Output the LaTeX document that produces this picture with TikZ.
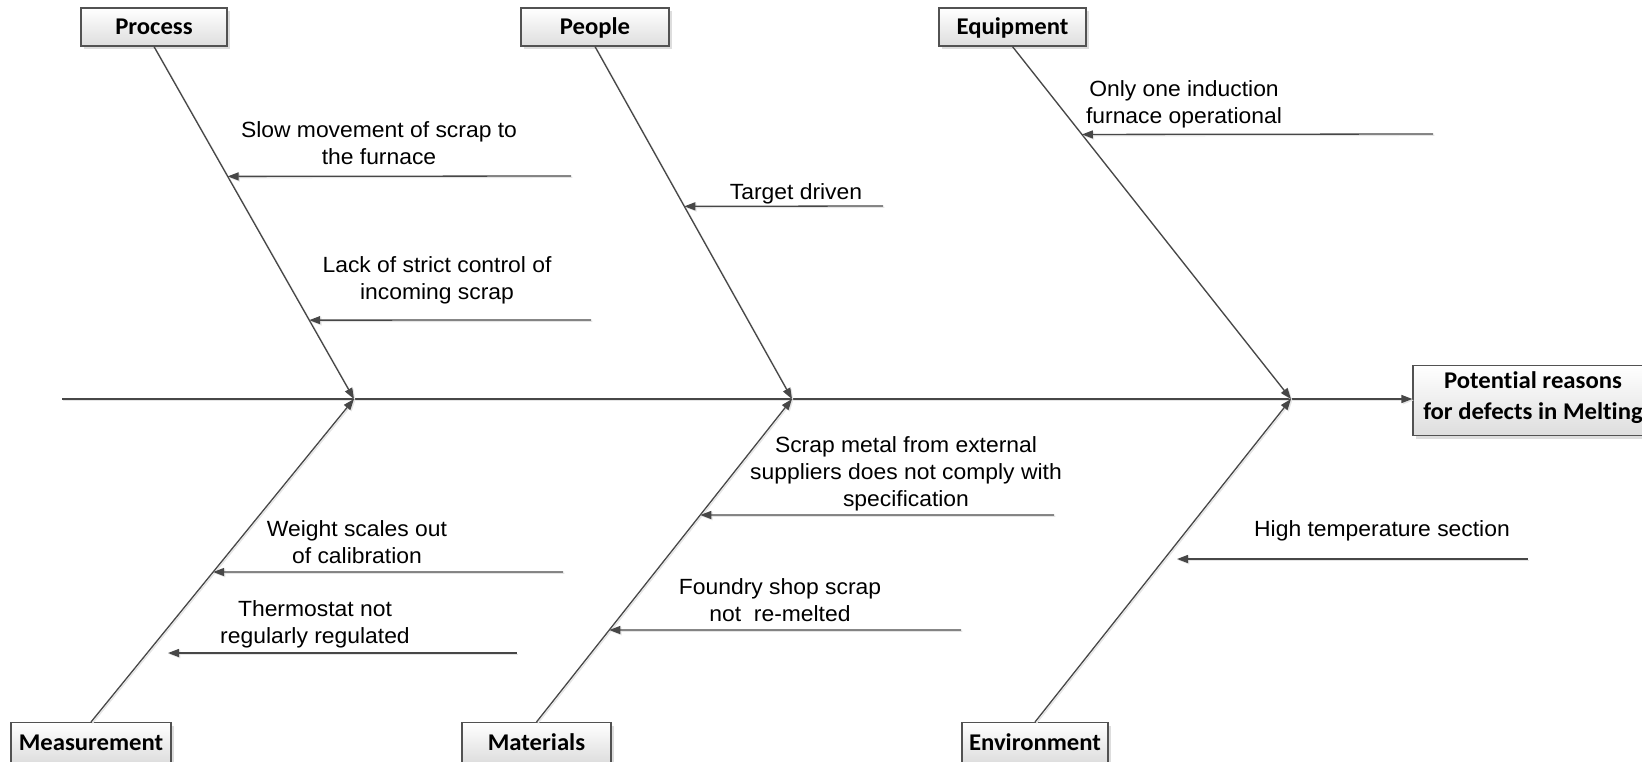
\documentclass[tikz,border=0pt]{standalone}
\usepackage{fontspec}
\setmainfont{Liberation Sans}[FakeStretch=1.04]
\newfontfamily\labfont{Carlito}[FakeStretch=1.03, Ligatures=NoCommon]
\usetikzlibrary{arrows.meta,shadows,calc}

\begin{document}
\begin{tikzpicture}[x=1pt,y=-1pt,
  softline/.style={preaction={draw=black!10, line width=1.3pt,
      transform canvas={shift={(1.3pt,-1.3pt)}}}},
  bone/.style={softline, draw=black!72, line width=1.3pt,
      -{Triangle[length=11pt,width=8pt]}},
  cause/.style={bone},
  labelbox/.style={draw=black!68, line width=1.2pt,
      top color=white, bottom color=black!13,
      drop shadow={shadow xshift=3pt, shadow yshift=-3pt, fill=black!22, opacity=.6},
      minimum height=38pt, inner sep=0pt,
      font=\labfont\bfseries\fontsize{24}{30}\selectfont,
      text height=15.5pt, text depth=0pt},
  resbox/.style={draw=black!68, line width=1.2pt,
      top color=white, bottom color=black!13,
      drop shadow={shadow xshift=3pt, shadow yshift=-3pt, fill=black!22, opacity=.6},
      minimum height=70pt, minimum width=240pt, inner sep=0pt, align=center,
      font=\labfont\bfseries\fontsize{24}{31}\selectfont,
      execute at begin node=\strut},
  causetext/.style={anchor=north, inner sep=0pt, align=center,
      font=\fontsize{22}{27}\selectfont, execute at begin node=\strut}]

\useasboundingbox (0,0) rectangle (1642,761);

% category boxes
\node[labelbox, minimum width=146pt] (proc) at (154,27) {Process};
\node[labelbox, minimum width=148pt] (peop) at (595,27) {People};
\node[labelbox, minimum width=147pt] (equi) at (1012.5,27) {Equipment};
\node[labelbox, minimum width=160pt, minimum height=40pt, anchor=north] (meas) at (91,722) {Measurement};
\node[labelbox, minimum width=149pt, minimum height=40pt, anchor=north] (mate) at (536.5,722) {Materials};
\node[labelbox, minimum width=146pt, minimum height=40pt, anchor=north] (envi) at (1035,722) {Environment};

% effect box
\node[resbox] (res) at (1533,400.5) {Potential reasons\\ for defects in Melting\strut};

% spine
\coordinate (tail) at (62,399);
\coordinate (j1) at (354,399);
\coordinate (j2) at (792,399);
\coordinate (j3) at (1291,399);
\draw[bone] (tail) -- (tail -| res.west);

% main bones
\draw[bone] (proc.south) -- (j1);
\draw[bone] (peop.south) -- (j2);
\draw[bone] (equi.south) -- (j3);
\draw[bone] (meas.north) -- (j1);
\draw[bone] (mate.north) -- (j2);
\draw[bone] (envi.north) -- (j3);

% causes: Process
\coordinate (s1) at (571,176);
\draw[cause] (s1) -- ($(proc.south)!0.3683!(j1)$);
\node[causetext] (t1) at (379,121) {Slow movement of scrap to\\ the furnace};
\coordinate (s2) at (591,320);
\draw[cause] (s2) -- ($(proc.south)!0.7762!(j1)$);
\node[causetext] (t2) at (437,256) {Lack of strict control of\\ incoming scrap};

% causes: People
\coordinate (s3) at (883,206);
\draw[cause] (s3) -- ($(peop.south)!0.4533!(j2)$);
\node[causetext] (t3) at (796,180) {Target driven};

% causes: Equipment
\coordinate (s4) at (1433,134);
\draw[cause] (s4) -- ($(equi.south)!0.2493!(j3)$);
\node[causetext] (t4) at (1184,80) {Only one induction\\ furnace operational};

% causes: Materials
\coordinate (s5) at (1054,515);
\draw[cause] (s5) -- ($(mate.north)!0.6409!(j2)$);
\node[causetext] (t5) at (906,436) {Scrap metal from external\\ suppliers does not comply with\\ specification};
\coordinate (s6) at (961,630);
\draw[cause] (s6) -- ($(mate.north)!0.2848!(j2)$);
\node[causetext] (t6) at (780,578) {Foundry shop scrap\\ not~ re-melted};

% causes: Environment
\coordinate (s7) at (1528,559);
\coordinate (e7) at (1177,559);
\draw[cause] (s7) -- (e7);
\node[causetext] (t7) at (1382,517) {High temperature section};

% causes: Measurement
\coordinate (s8) at (563,572);
\draw[cause] (s8) -- ($(meas.north)!0.4644!(j1)$);
\node[causetext] (t8) at (357,520) {Weight scales out\\ of calibration};
\coordinate (s9) at (517,653);
\coordinate (e9) at (168,653);
\draw[cause] (s9) -- (e9);
\node[causetext] (t9) at (315,600) {Thermostat not\\ regularly regulated};

\end{tikzpicture}
\end{document}
